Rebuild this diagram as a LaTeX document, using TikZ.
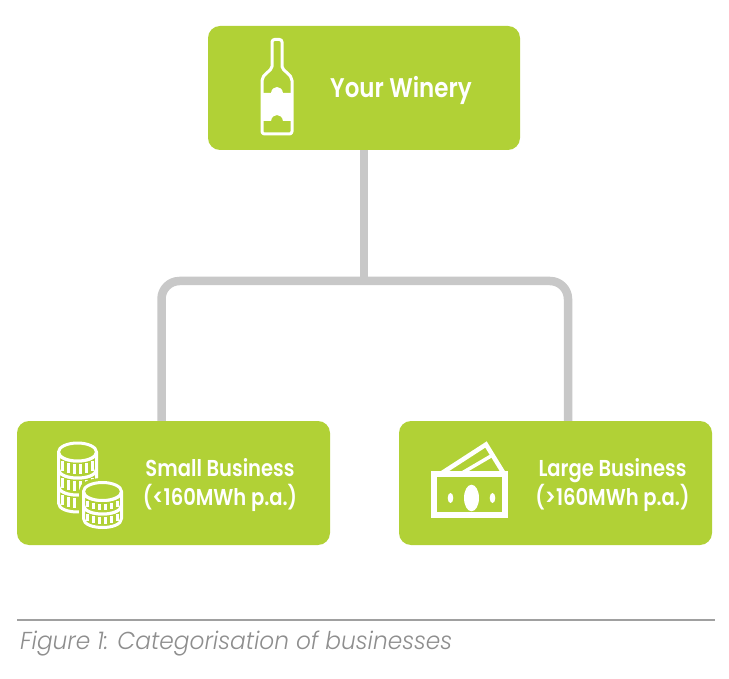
\documentclass[tikz,border=0pt]{standalone}
\usepackage{fontspec}
\setmainfont{Poppins}[FakeStretch=0.88, BoldFont={Poppins SemiBold}, BoldFeatures={FakeStretch=0.85}]
\newfontfamily\capfont{Poppins Light}[FakeStretch=0.95, ItalicFont={Poppins Light Italic}, ItalicFeatures={FakeStretch=0.95}]
\definecolor{lime}{HTML}{B1D136}
\definecolor{conngray}{HTML}{C8C8C8}
\definecolor{capgray}{HTML}{8E8E8E}
\definecolor{rulegray}{HTML}{A0A0A0}
\newcommand\coinband[3]{%
  \filldraw[ico, fill=lime] ({#1-19},{#2}) -- ({#1-19},{#3}) .. controls ({#1-19},{#3+12}) and ({#1+19},{#3+12}) .. ({#1+19},{#3}) -- ({#1+19},{#2}) .. controls ({#1+19},{#2+12}) and ({#1-19},{#2+12}) .. cycle;
  \foreach \dx in {-15,-9,-3,3,9,15}{%
    \pgfmathsetmacro\dy{9*sqrt(1-(\dx/19)^2)}%
    \draw[white, line width=2.5pt] ({#1+\dx},{#2+\dy+3.5}) -- ({#1+\dx},{#3+\dy-3.5});
  }%
}
\begin{document}
\begin{tikzpicture}[x=1pt,y=-1pt,
  box/.style={fill=lime, rounded corners=12pt, minimum width=312pt, minimum height=124pt, inner sep=0pt},
  conn/.style={draw=conngray, line width=8.5pt, rounded corners=18pt},
  ico/.style={draw=white, line width=3pt, line join=round},
  lab/.style={text=white, font=\bfseries\fontsize{23}{29}\selectfont, inner sep=0pt, anchor=base}
]
\useasboundingbox (0,0) rectangle (729,679);
\fill[white] (0,0) rectangle (729,679);

% boxes
\node[box] (top) at (364,88) {};
\node[box, minimum width=313pt] (small) at (173.5,483) {};
\node[box, minimum width=313pt] (large) at (555.5,483) {};

% connectors
\coordinate (j) at (364,281);
\draw[conn] (top.south) -- (j);
\draw[conn] ([xshift=-12pt]small.north) |- (j) -| ([xshift=12.5pt]large.north);

% labels
\node[lab, font=\bfseries\fontsize{27}{32}\selectfont] (tw) at (401,97.3) {Your Winery};
\node[lab] (sb1) at (220,476.5) {Small Business};
\node[lab] (sb2) at (220,505.5) {(<160MWh p.a.)};
\node[lab] (lb1) at (612.5,476.5) {Large Business};
\node[lab] (lb2) at (612.5,505.5) {(>160MWh p.a.)};

% bottle icon
\draw[ico, rounded corners=2.5pt] (277,39.5) -- (282,39.5) -- (282,64) .. controls (282,71) and (292,74) .. (292,83) -- (292,134) -- (262,134) -- (262,83) .. controls (262,74) and (272,71) .. (272,64) -- (272,39.5) -- cycle;
\fill[white] (262,93) -- (271,93) .. controls (272,85) and (282,85) .. (283,93) -- (292,93) -- (292,121) -- (283,121) .. controls (282,113) and (272,113) .. (271,121) -- (262,121) -- cycle;

% coins icon: back stack
\coinband{77.5}{486}{503}
\coinband{77.5}{469}{486}
\coinband{77.5}{452}{469}
\filldraw[ico, fill=lime] (77.5,452) ellipse [x radius=19, y radius=9];
% front stack with halo
\filldraw[draw=lime, fill=lime, line width=9pt] (83.5,491.5) -- (83.5,518.5) .. controls (83.5,530.5) and (121.5,530.5) .. (121.5,518.5) -- (121.5,491.5) .. controls (121.5,479.5) and (83.5,479.5) .. cycle;
\coinband{102.5}{505}{518.5}
\coinband{102.5}{491.5}{505}
\filldraw[ico, fill=lime] (102.5,491.5) ellipse [x radius=19, y radius=9];

% money icon
\draw[white, line width=4.5pt, line join=miter] (442,473) -- (486,444.5) -- (503.5,473);
\draw[white, line width=3.5pt] (462,473) -- (491,456);
\draw[white, line width=6pt] (434,474.3) rectangle (505.3,515);
\fill[white] (471.5,498) ellipse [x radius=7.5, y radius=13.3];
\fill[white] (450.5,498) ellipse [x radius=2.8, y radius=5];
\fill[white] (492.5,498) ellipse [x radius=2.8, y radius=5];

% caption
\draw[rulegray, line width=1.2pt] (17,620) -- (715,620);
\node[anchor=base west, text=capgray, font=\capfont\itshape\fontsize{24.5}{28}\selectfont, inner sep=0pt] (cap) at (20,649) {Figure 1: Categorisation of businesses};
\end{tikzpicture}
\end{document}
